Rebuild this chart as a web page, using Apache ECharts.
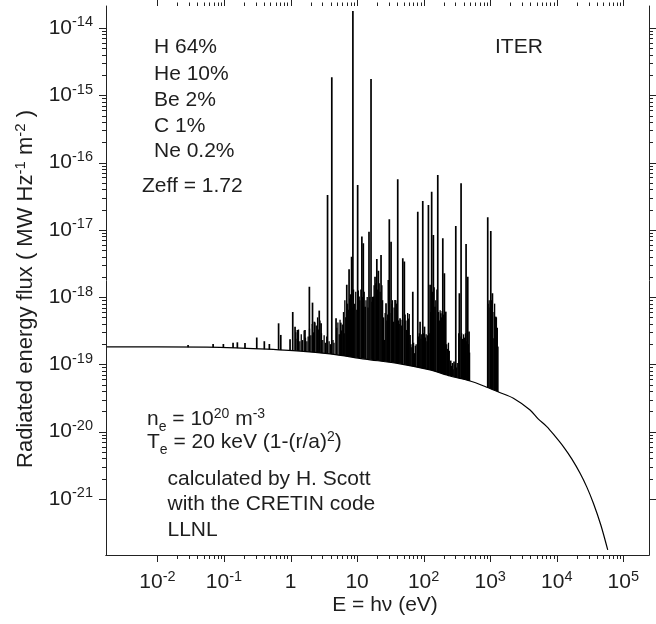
<!DOCTYPE html>
<html><head><meta charset="utf-8">
<script src="https://cdn.jsdelivr.net/npm/echarts@6/dist/echarts.min.js"></script>
<style>html,body{margin:0;padding:0;background:#fff}#chart{width:656px;height:624px}</style>
</head><body><div id="chart"></div>
<script>
// ---- data ----
// continuum (eV, MW Hz^-1 m^-2)
const contE = [0.00169, 0.01, 0.0875, 0.349, 1.39, 3.93, 13.2, 44.2, 125, 249, 498, 837, 1360, 2230, 3970, 5250, 7080, 9350, 12560, 16800, 22400, 28300, 35500, 45900, 58300];
const contF = [1.82e-19, 1.82e-19, 1.79e-19, 1.70e-19, 1.58e-19, 1.43e-19, 1.20e-19, 1.02e-19, 8.27e-20, 6.73e-20, 5.67e-20, 4.70e-20, 3.85e-20, 3.14e-20, 2.10e-20, 1.55e-20, 1.19e-20, 8.65e-21, 6.00e-21, 3.94e-21, 2.41e-21, 1.50e-21, 8.65e-22, 4.11e-22, 1.75e-22];
// resolved spectral lines: energy and peak flux
const lineE = [0.0289, 0.0687, 0.098, 0.137, 0.159, 0.207, 0.311, 0.404, 0.481, 0.662,
  0.714, 0.984, 1.08, 1.17, 1.27, 1.65, 1.92, 2.14, 2.28, 2.70,
  2.88, 3.60, 4.17, 4.83, 5.69, 6.38, 7.00, 7.58, 8.27, 8.65,
  10.2, 10.7, 11.8, 12.4, 13.2, 15.1, 16.2, 17.6, 18.6, 19.8,
  20.9, 22.9, 25.7, 27.2, 29.5, 30.5, 32.4, 35.1, 37.2, 40.8,
  44.2, 48.6, 51.3, 55.7, 62.5, 68.7, 72.6, 81.6, 88.4, 97.0,
  103, 118, 125, 132, 140, 148, 163, 181, 194, 205,
  215, 255, 286, 304, 344, 365, 434, 460, 481, 918,
  1020, 1080, 1140, 1210, 1300];
const lineF = [1.95e-19, 2.01e-19, 2.01e-19, 2.10e-19, 2.13e-19, 2.08e-19, 2.51e-19, 2.21e-19, 2.01e-19, 4.08e-19,
  2.74e-19, 2.37e-19, 6.01e-19, 3.64e-19, 3.25e-19, 3.25e-19, 1.43e-18, 8.28e-19, 4.31e-19, 6.30e-19,
  4.08e-19, 3.30e-17, 1.85e-15, 4.85e-19, 4.17e-19, 2.90e-19, 1.52e-18, 2.60e-18, 3.99e-18, 1.79e-14,
  4.65e-17, 1.02e-18, 7.93e-18, 6.31e-18, 7.21e-19, 9.40e-18, 1.75e-15, 1.02e-18, 2.01e-18, 3.69e-18,
  2.47e-18, 4.24e-18, 2.31e-19, 8.11e-19, 1.80e-18, 1.44e-17, 6.67e-18, 4.31e-19, 9.08e-19, 5.65e-17,
  4.85e-19, 3.78e-18, 3.37e-18, 3.25e-19, 2.74e-19, 1.20e-18, 1.47e-19, 1.86e-17, 4.31e-19, 2.69e-17,
  3.64e-19, 2.34e-17, 1.52e-18, 3.69e-17, 8.39e-18, 7.21e-19, 6.53e-17, 5.75e-19, 7.50e-18, 2.26e-18,
  6.08e-19, 1.14e-19, 1.10e-19, 1.14e-17, 1.14e-18, 4.92e-17, 6.17e-18, 2.01e-18, 3.07e-19, 1.54e-17,
  9.62e-18, 1.14e-18, 2.45e-19, 5.13e-19, 1.84e-19];
// dense weak-line forest: energy and peak flux
const forestE = [1.20, 1.26, 1.32, 1.38, 1.45, 1.52, 1.60,
  1.68, 1.76, 1.84, 1.93, 2.02, 2.12, 2.22, 2.33,
  2.44, 2.55, 2.65, 2.77,
  2.92, 3.05, 3.20, 3.35, 3.50,
  3.80, 3.98, 4.35, 4.50,
  4.95, 5.15, 5.40, 5.55, 5.85, 6.00,
  6.25, 6.55, 6.75, 7.20, 7.40, 7.75,
  7.95, 8.45, 8.85, 9.20, 9.55, 9.90, 10.45, 11.0, 11.4, 12.1, 12.8,
  13.6, 14.2, 14.6, 15.6, 16.7, 17.0,
  18.0, 19.2, 20.3, 21.5, 22.2, 23.6, 24.2,
  25.0, 26.4, 28.0, 28.8, 31.0,
  33.2, 34.0, 36.0, 38.3, 39.3,
  42.0, 43.0, 45.5, 46.8,
  52.8, 54.2, 57.5, 59.0, 60.8,
  64.5, 66.5, 70.6, 75.0, 77.2,
  84.0, 86.0, 91.0, 93.5, 100, 106, 109, 112, 115, 121,
  128, 136, 144, 152, 158,
  168, 172, 177, 186, 190, 199,
  222, 229, 236, 243,
  262, 270, 278, 295, 312, 320,
  336, 352, 372, 385, 398, 412, 425, 445, 470, 490,
  930, 965, 1000, 1050, 1100, 1165, 1240, 1280];
const forestF = [3.0e-19, 2.4e-19, 3.3e-19, 2.2e-19, 2.8e-19, 2.3e-19, 3.2e-19,
  2.5e-19, 2.2e-19, 2.6e-19, 3.4e-19, 2.7e-19, 4.0e-19, 3.0e-19, 4.2e-19,
  3.8e-19, 5.0e-19, 3.3e-19, 4.5e-19,
  2.9e-19, 2.3e-19, 2.7e-19, 2.1e-19, 2.6e-19,
  2.2e-19, 2.0e-19, 2.3e-19, 2.1e-19,
  3.5e-19, 4.2e-19, 2.8e-19, 4.6e-19, 3.2e-19, 3.9e-19,
  6.0e-19, 9.0e-19, 5.0e-19, 8.0e-19, 6.5e-19, 9.5e-19,
  1.1e-18, 7.0e-19, 1.3e-18, 8.0e-19, 1.2e-18, 6.5e-19, 1.25e-18, 9.0e-19, 1.3e-18, 1.0e-18, 1.2e-18,
  9.0e-19, 1.0e-18, 7.0e-19, 1.0e-18, 8.5e-19, 1.0e-18,
  1.5e-18, 1.6e-18, 1.3e-18, 1.6e-18, 1.2e-18, 1.5e-18, 9.0e-19,
  5.0e-19, 5.8e-19, 4.5e-19, 5.5e-19, 5.8e-19,
  8.0e-19, 9.0e-19, 7.0e-19, 9.0e-19, 8.0e-19,
  4.5e-19, 4.0e-19, 4.6e-19, 3.8e-19,
  5.5e-19, 4.5e-19, 5.8e-19, 4.8e-19, 5.6e-19,
  2.0e-19, 1.8e-19, 2.1e-19, 1.9e-19, 2.0e-19,
  2.6e-19, 2.9e-19, 2.4e-19, 2.8e-19, 2.9e-19, 2.5e-19, 2.8e-19, 2.2e-19, 2.7e-19, 2.9e-19,
  6.0e-19, 1.2e-18, 1.4e-18, 9.0e-19, 1.3e-18,
  6.0e-19, 4.5e-19, 6.4e-19, 5.0e-19, 6.2e-19, 5.5e-19,
  2.0e-19, 1.7e-19, 2.1e-19, 1.6e-19,
  9.5e-20, 1.05e-19, 8.5e-20, 1.0e-19, 9.0e-20, 1.05e-19,
  2.9e-19, 2.6e-19, 2.9e-19, 2.4e-19, 2.8e-19, 2.5e-19, 2.9e-19, 2.2e-19, 2.0e-19, 1.5e-19,
  8.0e-19, 9.0e-19, 7.0e-19, 9.0e-19, 6.0e-19, 8.0e-19, 5.0e-19, 3.5e-19];
// axes
const X_MIN = 1.69e-3, X_MAX = 2.43e5;
const Y_MIN = 1.47e-22, Y_MAX = 2.12e-14;
const xMajor = [1e-2, 1e-1, 1, 10, 1e2, 1e3, 1e4, 1e5];
const yMajor = [1e-21, 1e-20, 1e-19, 1e-18, 1e-17, 1e-16, 1e-15, 1e-14];
const minorMult = [2, 3, 4, 5, 6, 7, 8, 9];
const composition = ['H 64%', 'He 10%', 'Be 2%', 'C 1%', 'Ne 0.2%'];
const zeffText = 'Zeff = 1.72';
const machine = 'ITER';
const creditLines = ['calculated by H. Scott', 'with the CRETIN code', 'LLNL'];

// ---- build ----
const FONT = "'Liberation Sans', Arial, Helvetica, sans-serif";
const INK = '#1e1e1e';
const xMinor = [], yMinor = [];
xMajor.slice(0, -1).forEach(d => minorMult.forEach(m => xMinor.push(m * d)));
yMajor.slice(0, -1).forEach(d => minorMult.forEach(m => yMinor.push(m * d)));
const tickData = [];
xMajor.forEach(v => tickData.push([v, Y_MIN, 0]));
xMinor.forEach(v => tickData.push([v, Y_MIN, 1]));
yMajor.forEach(v => tickData.push([X_MIN, v, 2]));
yMinor.forEach(v => tickData.push([X_MIN, v, 3]));

function expLabel(v) {
  const n = Math.round(Math.log10(v));
  if (n === 0) return '1';
  if (n === 1) return '10';
  return '10{s|' + n + '}';
}
const supRich = { s: { fontSize: 14.5, lineHeight: 14, padding: [0, 0, 11, 0], fontFamily: FONT, color: INK } };
function crisp(v) { return Math.round(v) + 0.5; }

function spikeSeries(E, F, width) {
  return {
    type: 'custom', coordinateSystem: 'cartesian2d', xAxisIndex: 0, yAxisIndex: 0, clip: true, silent: true,
    data: E.map((e, i) => [e, F[i]]),
    renderItem: function (params, api) {
      const top = api.coord([api.value(0), api.value(1)]);
      const bot = api.coord([api.value(0), Y_MIN]);
      return { type: 'line', shape: { x1: top[0], y1: top[1], x2: bot[0], y2: bot[1] },
        style: { stroke: '#000', lineWidth: width } };
    }
  };
}

const chart = echarts.init(document.getElementById('chart'), null, { renderer: 'canvas' });
const baseAxis = {
  type: 'log', logBase: 10,
  axisLine: { show: true, lineStyle: { color: '#222', width: 1 } },
  axisTick: { show: false }, splitLine: { show: false }, minorTick: { show: false },
  z: 10
};
const option = {
  animation: false,
  backgroundColor: '#fff',
  grid: { left: 106, right: 7, top: 6, bottom: 69, containLabel: false },
  xAxis: [
    Object.assign({}, baseAxis, {
      position: 'bottom', min: X_MIN, max: X_MAX, splitNumber: 10,
      axisLabel: { show: true, margin: 14, fontSize: 21, lineHeight: 26, fontFamily: FONT, color: INK,
        formatter: expLabel, rich: supRich, showMinLabel: false, showMaxLabel: false }
    }),
    Object.assign({}, baseAxis, { position: 'top', min: X_MIN, max: X_MAX, axisLabel: { show: false } })
  ],
  yAxis: [
    Object.assign({}, baseAxis, {
      position: 'left', min: Y_MIN, max: Y_MAX, splitNumber: 10,
      axisLabel: { show: true, margin: 13, fontSize: 21, lineHeight: 26, fontFamily: FONT, color: INK,
        formatter: expLabel, rich: supRich, showMinLabel: false, showMaxLabel: false }
    }),
    Object.assign({}, baseAxis, { position: 'right', min: Y_MIN, max: Y_MAX, axisLabel: { show: false } })
  ],
  series: [
    spikeSeries(forestE, forestF, 1.3),
    spikeSeries(lineE, lineF, 1.7),
    { // white mask below the continuum (hides line feet)
      type: 'custom', coordinateSystem: 'cartesian2d', clip: true, silent: true,
      data: contE.map((e, i) => [e, contF[i]]),
      renderItem: function (params, api) {
        if (params.dataIndex !== 0) return null;
        const pts = contE.map((e, i) => api.coord([e, contF[i]]));
        pts.push(api.coord([contE[contE.length - 1], Y_MIN]));
        pts.push(api.coord([contE[0], Y_MIN]));
        return { type: 'polygon', shape: { points: pts }, style: { fill: '#fff', stroke: null } };
      }
    },
    { // continuum
      type: 'line', data: contE.map((e, i) => [e, contF[i]]), showSymbol: false, smooth: 0.3,
      lineStyle: { color: '#000', width: 1.2 }, clip: true
    },
    { // log ticks on all four sides, pointing outward
      type: 'custom', coordinateSystem: 'cartesian2d', clip: false, silent: true, z: 11,
      data: tickData,
      renderItem: function (params, api) {
        const kind = api.value(2);
        const major = (kind === 0 || kind === 2);
        const st = { stroke: '#222', lineWidth: 1 };
        if (kind < 2) {
          const v = api.value(0);
          const b = api.coord([v, Y_MIN]), t = api.coord([v, Y_MAX]);
          const x = crisp(b[0]);
          const lb = major ? 7 : 4, lt = major ? 6 : 3.5;
          return { type: 'group', children: [
            { type: 'line', shape: { x1: x, y1: b[1], x2: x, y2: b[1] + lb }, style: st },
            { type: 'line', shape: { x1: x, y1: t[1], x2: x, y2: t[1] - lt }, style: st }
          ] };
        } else {
          const v = api.value(1);
          const l = api.coord([X_MIN, v]), r = api.coord([X_MAX, v]);
          const y = crisp(l[1]);
          const len = major ? 7 : 4;
          return { type: 'group', children: [
            { type: 'line', shape: { x1: l[0], y1: y, x2: l[0] - len, y2: y }, style: st },
            { type: 'line', shape: { x1: r[0], y1: y, x2: r[0] + len, y2: y }, style: st }
          ] };
        }
      }
    }
  ],
  graphic: { elements: [] }
};

function richSet(fs) {
  const s = Math.round(fs * 0.68);
  return { sub: { fontSize: s, lineHeight: s, padding: [16, 0, 0, 0], fontFamily: FONT, fill: INK },
           sup: { fontSize: s, lineHeight: s, padding: [0, 0, 10, 0], fontFamily: FONT, fill: INK } };
}
function txt(x, y, text, opts, fs) {
  fs = fs || 21;
  return Object.assign({ type: 'text', x: x, y: y, z: 100,
    style: Object.assign({ text: text, font: fs + "px " + FONT, fill: INK, align: 'left', verticalAlign: 'middle', rich: richSet(fs) }, opts || {}) });
}
const G = option.graphic.elements;
const compY = [47, 74, 100, 126, 151.5];
composition.forEach((t, i) => G.push(txt(154, compY[i], t)));
G.push(txt(142, 186, zeffText));
G.push(txt(495, 47, machine));
G.push(txt(147, 419, 'n{sub|e} = 10{sup|20} m{sup|-3}'));
G.push(txt(147, 442, 'T{sub|e} = 20 keV (1-(r/a){sup|2})'));
const credY = [479.5, 504.5, 530];
creditLines.forEach((t, i) => G.push(txt(167.5, credY[i], t)));
G.push(txt(385, 605, 'E = h\u03bd (eV)', { align: 'center' }));
const yName = txt(26, 289, 'Radiated energy flux ( MW Hz{sup|-1} m{sup|-2} )', { align: 'center' }, 22);
yName.rotation = Math.PI / 2;
G.push(yName);

chart.setOption(option);
</script></body></html>
